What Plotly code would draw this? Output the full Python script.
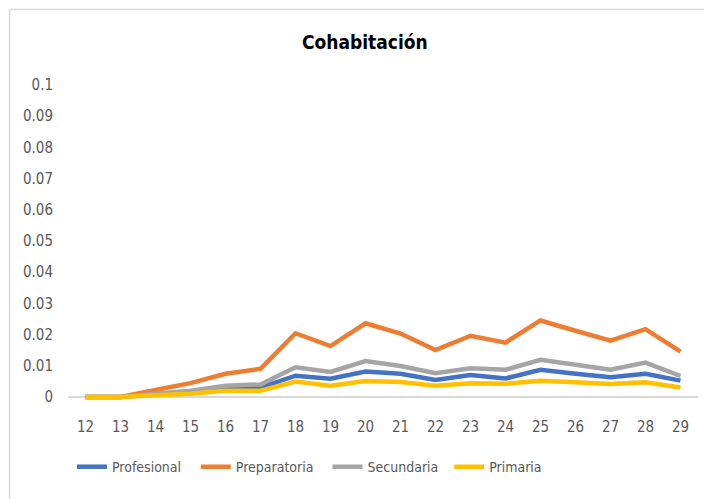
import plotly.graph_objects as go

ages = ["12", "13", "14", "15", "16", "17", "18", "19", "20", "21", "22", "23", "24", "25", "26", "27", "28", "29"]
profesional = [0, 0, 0.0008, 0.0015, 0.003, 0.003, 0.0068, 0.0058, 0.0081, 0.0074, 0.0054, 0.007, 0.0059, 0.0087, 0.0074, 0.0063, 0.0074, 0.0052]
preparatoria = [0, 0, 0.0022, 0.0044, 0.0074, 0.009, 0.0204, 0.0163, 0.0236, 0.0203, 0.015, 0.0196, 0.0174, 0.0245, 0.0212, 0.018, 0.0217, 0.0145]
secundaria = [0, 0, 0.001, 0.002, 0.0036, 0.004, 0.0095, 0.008, 0.0115, 0.0099, 0.0076, 0.0092, 0.0087, 0.0119, 0.0103, 0.0087, 0.011, 0.0067]
primaria = [0, 0, 0.0005, 0.001, 0.002, 0.002, 0.0049, 0.0036, 0.0051, 0.0048, 0.0036, 0.0044, 0.0042, 0.0052, 0.0047, 0.0041, 0.0047, 0.003]
y_ticks = [0, 0.01, 0.02, 0.03, 0.04, 0.05, 0.06, 0.07, 0.08, 0.09, 0.1]
y_labels = ["0", "0.01", "0.02", "0.03", "0.04", "0.05", "0.06", "0.07", "0.08", "0.09", "0.1"]

FONT = "Liberation Sans Narrow, DejaVu Sans Condensed, Arial Narrow, sans-serif"

series = [
    ("Profesional", profesional, "#4472C4"),
    ("Preparatoria", preparatoria, "#ED7D31"),
    ("Secundaria", secundaria, "#A5A5A5"),
    ("Primaria", primaria, "#FFC000"),
]
legend_x = [0.0063, 0.2029, 0.412, 0.605]
legend_ids = ["legend", "legend2", "legend3", "legend4"]

fig = go.Figure()
for (name, vals, color), lid in zip(series, legend_ids):
    fig.add_trace(go.Scatter(x=ages, y=vals, name=name, mode="lines", legend=lid,
                             line=dict(color=color, width=4.5)))

legend_common = dict(orientation="h", xanchor="left", y=-0.213, yanchor="middle",
                     font=dict(size=14, color="#595959"), itemwidth=30,
                     bgcolor="rgba(0,0,0,0)")
layout_legends = {lid: dict(x=lx, **legend_common) for lid, lx in zip(legend_ids, legend_x)}

fig.update_layout(
    width=704, height=491,
    margin=dict(l=59.5, r=13.5, t=77, b=99),
    paper_bgcolor="white", plot_bgcolor="white",
    font=dict(family=FONT, color="#595959", size=15),
    showlegend=True,
    annotations=[dict(text="<b>Cohabitación</b>", x=0.471, y=1.137, xref="paper", yref="paper",
                      xanchor="center", yanchor="middle", showarrow=False,
                      font=dict(size=19, color="black", family=FONT))],
    shapes=[
        dict(type="line", xref="paper", yref="paper", x0=-0.0927, x1=1.5, y0=1.24, y1=1.24,
             line=dict(color="#D9D9D9", width=1.5)),
        dict(type="line", xref="paper", yref="paper", x0=-0.0927, x1=-0.0927, y0=-1, y1=1.24,
             line=dict(color="#D9D9D9", width=1.5)),
    ],
    **layout_legends,
)
fig.update_xaxes(type="category", range=[-0.5, 17.5], showgrid=False, showline=False,
                 ticks="", ticklabelstandoff=16, tickfont=dict(size=15, color="#595959"))
fig.update_yaxes(range=[-0.001, 0.1], tickvals=y_ticks, ticktext=y_labels, showgrid=False,
                 zeroline=True, zerolinecolor="#D9D9D9", zerolinewidth=1.5,
                 showline=False, ticks="", ticklabelstandoff=14,
                 tickfont=dict(size=15, color="#595959"))

fig.write_html("out.html")
